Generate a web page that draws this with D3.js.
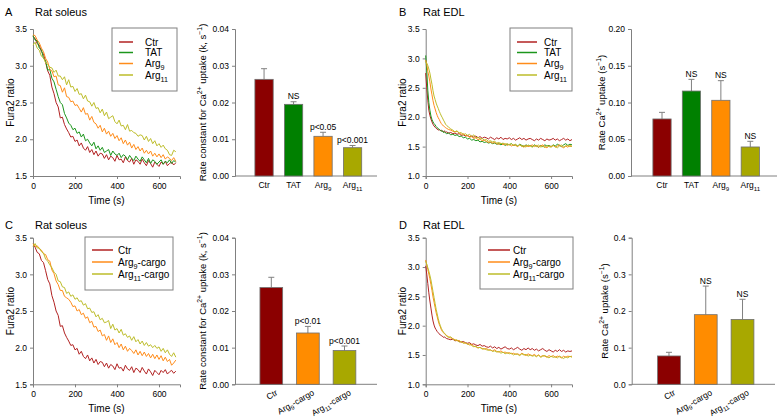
<!DOCTYPE html>
<html>
<head>
<meta charset="utf-8">
<script src="https://cdn.jsdelivr.net/npm/d3@7"></script>
<style>
body { margin: 0; background: #fff; }
svg { font-family: "Liberation Sans", Arial, sans-serif; }
</style>
</head>
<body>
<svg id="fig" width="783" height="420"></svg>
<script>
// sampling times (s)
var timeSoleus = [0,10,20,30,40,50,60,70,80,90,
	100,110,120,130,140,150,160,170,180,190,
	200,210,220,230,240,250,260,270,280,290,
	300,310,320,330,340,350,360,370,380,390,
	400,410,420,430,440,450,460,470,480,490,
	500,510,520,530,540,550,560,570,580,590,
	600,610,620,630,640,650,660,670,680];
var timeEDL = [0,5,10,15,20,25,30,35,40,45,
	50,55,60,65,70,75,80,85,90,95,
	100,110,120,130,140,150,160,170,180,190,
	200,210,220,230,240,250,260,270,280,290,
	300,310,320,330,340,350,360,370,380,390,
	400,410,420,430,440,450,460,470,480,490,
	500,510,520,530,540,550,560,570,580,590,
	600,610,620,630,640,650,660,670,680,690,
	700];

// Fura2 ratio traces, rat soleus
var soleusCtr = [3.40,3.37,3.30,3.28,3.19,3.16,3.05,2.93,2.87,2.71,
	2.62,2.50,2.44,2.29,2.30,2.20,2.14,2.09,2.03,2.04,
	1.97,1.99,1.91,1.95,1.88,1.85,1.90,1.82,1.86,1.79,
	1.84,1.77,1.81,1.80,1.74,1.79,1.72,1.77,1.75,1.70,
	1.78,1.72,1.73,1.68,1.76,1.71,1.69,1.74,1.66,1.72,
	1.70,1.66,1.73,1.68,1.64,1.71,1.67,1.62,1.69,1.66,
	1.63,1.69,1.66,1.70,1.64,1.67,1.69,1.65,1.68];
var soleusTAT = [3.41,3.35,3.34,3.24,3.22,3.10,3.07,2.94,2.95,2.83,
	2.78,2.68,2.58,2.50,2.47,2.35,2.29,2.22,2.19,2.13,
	2.15,2.08,2.10,2.03,2.07,1.98,2.00,1.95,1.91,1.96,
	1.87,1.91,1.85,1.89,1.82,1.84,1.86,1.78,1.84,1.80,
	1.78,1.81,1.75,1.79,1.77,1.72,1.78,1.74,1.71,1.77,
	1.73,1.70,1.76,1.72,1.68,1.74,1.67,1.72,1.70,1.66,
	1.69,1.72,1.66,1.70,1.68,1.72,1.67,1.71,1.69];
var soleusArg9 = [3.42,3.41,3.35,3.31,3.24,3.19,3.10,3.05,2.95,2.93,
	2.85,2.86,2.74,2.73,2.64,2.70,2.58,2.57,2.51,2.52,
	2.46,2.47,2.42,2.37,2.43,2.34,2.35,2.26,2.31,2.23,
	2.21,2.15,2.19,2.10,2.15,2.07,2.11,2.04,2.08,2.01,
	2.05,1.98,2.02,1.94,1.99,1.92,1.96,1.88,1.93,1.86,
	1.90,1.84,1.88,1.81,1.85,1.80,1.84,1.77,1.81,1.76,
	1.80,1.75,1.79,1.73,1.76,1.74,1.71,1.75,1.70];
var soleusArg11 = [3.28,3.32,3.24,3.21,3.13,3.11,3.04,3.02,2.98,2.97,
	2.91,2.94,2.86,2.86,2.81,2.85,2.74,2.81,2.71,2.72,
	2.65,2.69,2.61,2.62,2.55,2.60,2.52,2.51,2.45,2.50,
	2.42,2.43,2.36,2.41,2.32,2.37,2.28,2.30,2.32,2.24,
	2.21,2.26,2.18,2.19,2.13,2.20,2.11,2.12,2.09,2.08,
	2.04,2.06,2.05,1.99,2.04,1.97,2.01,1.94,1.98,1.91,
	1.94,1.89,1.92,1.87,1.85,1.79,1.78,1.85,1.83];
var soleusArg9Cargo = [3.42,3.38,3.39,3.35,3.33,3.28,3.27,3.20,3.18,3.06,
	3.01,2.91,2.86,2.78,2.78,2.70,2.68,2.66,2.62,2.56,
	2.57,2.50,2.52,2.45,2.47,2.40,2.42,2.34,2.36,2.28,
	2.29,2.22,2.24,2.16,2.18,2.10,2.16,2.07,2.12,2.04,
	2.07,2.00,2.05,1.97,2.02,1.95,1.99,1.96,1.92,1.97,
	1.90,1.95,1.89,1.94,1.88,1.92,1.86,1.91,1.85,1.90,
	1.84,1.89,1.82,1.87,1.81,1.84,1.76,1.79,1.83];
var soleusArg11Cargo = [3.38,3.42,3.36,3.36,3.31,3.29,3.21,3.18,3.13,3.09,
	3.03,3.00,2.91,2.90,2.83,2.82,2.74,2.76,2.70,2.72,
	2.66,2.68,2.63,2.64,2.58,2.60,2.53,2.54,2.48,2.49,
	2.42,2.45,2.38,2.40,2.34,2.35,2.37,2.26,2.32,2.24,
	2.26,2.20,2.25,2.17,2.19,2.14,2.16,2.10,2.15,2.08,
	2.11,2.05,2.09,2.03,2.07,2.02,2.04,2.00,2.03,1.99,
	2.01,1.95,1.99,1.93,1.97,1.91,1.88,1.93,1.87];

// Fura2 ratio traces, rat EDL
var edlCtr = [2.75,2.50,2.29,2.12,2.03,1.97,1.92,1.88,1.85,1.83,
	1.81,1.80,1.78,1.79,1.77,1.78,1.76,1.75,1.77,1.74,
	1.75,1.73,1.74,1.72,1.73,1.71,1.72,1.69,1.70,1.68,
	1.69,1.67,1.68,1.66,1.68,1.65,1.67,1.64,1.66,1.65,
	1.63,1.66,1.64,1.62,1.65,1.63,1.66,1.62,1.64,1.63,
	1.65,1.62,1.64,1.61,1.63,1.65,1.62,1.64,1.61,1.63,
	1.64,1.62,1.60,1.63,1.61,1.64,1.62,1.60,1.63,1.61,
	1.62,1.64,1.61,1.63,1.60,1.62,1.64,1.61,1.63,1.60,
	1.62];
var edlTAT = [3.05,2.80,2.46,2.25,2.12,2.02,1.96,1.92,1.89,1.87,
	1.84,1.82,1.81,1.79,1.78,1.76,1.77,1.74,1.75,1.73,
	1.72,1.73,1.70,1.71,1.69,1.70,1.67,1.68,1.65,1.66,
	1.63,1.64,1.61,1.62,1.60,1.61,1.58,1.59,1.57,1.58,
	1.56,1.57,1.55,1.56,1.54,1.55,1.53,1.55,1.52,1.54,
	1.53,1.55,1.52,1.53,1.51,1.54,1.52,1.50,1.53,1.51,
	1.52,1.50,1.53,1.51,1.49,1.52,1.50,1.53,1.51,1.52,
	1.50,1.53,1.51,1.54,1.52,1.50,1.53,1.55,1.52,1.54,
	1.53];
var edlArg9 = [2.97,2.90,2.78,2.70,2.60,2.48,2.38,2.28,2.20,2.14,
	2.08,2.03,1.99,1.96,1.92,1.89,1.87,1.85,1.84,1.82,
	1.81,1.79,1.78,1.76,1.75,1.76,1.73,1.71,1.72,1.69,
	1.68,1.66,1.67,1.64,1.65,1.62,1.63,1.60,1.61,1.59,
	1.57,1.58,1.56,1.57,1.55,1.54,1.56,1.53,1.55,1.52,
	1.54,1.51,1.53,1.52,1.50,1.53,1.51,1.49,1.52,1.50,
	1.51,1.53,1.50,1.52,1.49,1.51,1.53,1.50,1.48,1.51,
	1.50,1.52,1.49,1.51,1.53,1.50,1.48,1.51,1.49,1.52,
	1.50];
var edlArg11 = [2.94,2.92,2.88,2.82,2.75,2.65,2.56,2.45,2.36,2.30,
	2.24,2.19,2.15,2.10,2.06,2.02,1.99,1.95,1.92,1.88,
	1.86,1.83,1.80,1.78,1.75,1.77,1.73,1.74,1.70,1.72,
	1.69,1.71,1.67,1.70,1.65,1.66,1.63,1.64,1.61,1.62,
	1.59,1.60,1.58,1.59,1.56,1.57,1.55,1.56,1.54,1.55,
	1.53,1.55,1.52,1.54,1.51,1.53,1.50,1.52,1.49,1.53,
	1.51,1.49,1.52,1.50,1.53,1.49,1.51,1.48,1.52,1.50,
	1.49,1.52,1.50,1.48,1.51,1.53,1.49,1.51,1.52,1.50,
	1.51];
var edlCargoCtr = [3.02,2.88,2.72,2.56,2.42,2.30,2.18,2.08,2.01,1.96,
	1.93,1.90,1.88,1.86,1.84,1.83,1.82,1.80,1.81,1.79,
	1.78,1.77,1.76,1.77,1.74,1.75,1.73,1.72,1.73,1.71,
	1.70,1.71,1.68,1.69,1.67,1.66,1.68,1.65,1.66,1.64,
	1.63,1.65,1.62,1.64,1.61,1.63,1.60,1.62,1.64,1.61,
	1.60,1.62,1.59,1.61,1.63,1.60,1.58,1.61,1.59,1.62,
	1.59,1.61,1.58,1.60,1.57,1.59,1.61,1.58,1.56,1.59,
	1.57,1.55,1.58,1.56,1.59,1.56,1.58,1.55,1.57,1.56,
	1.57];
var edlArg9Cargo = [3.12,3.04,2.96,2.88,2.80,2.70,2.60,2.49,2.40,2.31,
	2.22,2.15,2.08,2.02,1.98,1.93,1.90,1.88,1.86,1.85,
	1.83,1.81,1.79,1.78,1.76,1.74,1.75,1.72,1.71,1.70,
	1.69,1.67,1.68,1.65,1.64,1.62,1.63,1.61,1.60,1.61,
	1.59,1.58,1.57,1.59,1.56,1.55,1.57,1.54,1.55,1.53,
	1.54,1.52,1.53,1.51,1.52,1.50,1.53,1.51,1.49,1.52,
	1.50,1.49,1.51,1.48,1.50,1.47,1.49,1.48,1.46,1.49,
	1.47,1.49,1.46,1.48,1.47,1.45,1.48,1.46,1.48,1.47,
	1.48];
var edlArg11Cargo = [3.10,3.05,2.99,2.93,2.86,2.78,2.68,2.58,2.48,2.38,
	2.28,2.20,2.12,2.05,2.00,1.95,1.92,1.89,1.87,1.85,
	1.82,1.80,1.81,1.77,1.75,1.76,1.72,1.73,1.70,1.71,
	1.68,1.69,1.66,1.64,1.65,1.62,1.63,1.60,1.61,1.59,
	1.58,1.59,1.56,1.57,1.55,1.56,1.53,1.55,1.52,1.54,
	1.52,1.53,1.50,1.52,1.51,1.49,1.52,1.50,1.51,1.48,
	1.50,1.48,1.49,1.47,1.50,1.46,1.48,1.49,1.47,1.45,
	1.48,1.46,1.47,1.45,1.48,1.46,1.44,1.47,1.45,1.48,
	1.46];

// bar charts: rate of Ca2+ uptake (mean, SEM) and significance labels
var peptideCats = ["Ctr", "TAT", "Arg_{9}", "Arg_{11}"];
var cargoCats = ["Ctr", "Arg_{9}-cargo", "Arg_{11}-cargo"];
var soleusRate = [0.0263, 0.0195, 0.0108, 0.0077];
var soleusRateErr = [0.0029, 0.0007, 0.0011, 0.0006];
var soleusSig = ["", "NS", "p<0.05", "p<0.001"];
var edlRate = [0.0776, 0.1156, 0.1030, 0.0395];
var edlRateErr = [0.0090, 0.0159, 0.0267, 0.0077];
var edlSig = ["", "NS", "NS", "NS"];
var soleusCargoRate = [0.0264, 0.0140, 0.0092];
var soleusCargoErr = [0.0028, 0.0018, 0.00125];
var soleusCargoSig = ["", "p<0.01", "p<0.001"];
var edlCargoRate = [0.0773, 0.190, 0.177];
var edlCargoErr = [0.0100, 0.078, 0.055];
var edlCargoSig = ["", "NS", "NS"];

var timeTicks = [0, 200, 400, 600];

var lineColor = {"Ctr": "#b22222", "TAT": "#1c961c", "Arg9": "#ff8c1a", "Arg11": "#bdbd2a"};
var barColor = {"Ctr": "#8b0000", "TAT": "#008000", "Arg9": "#ff8c00", "Arg11": "#a8a800"};
var axisGrey = "#808080";

var svg = d3.select("#fig");

// text with _{sub} and ^{sup} pieces
function richText(t, str, size) {
	var parts = str.split(/(_\{[^}]*\}|\^\{[^}]*\})/).filter(function(s) { return s.length > 0; });
	var shift = 0;
	parts.forEach(function(p) {
		var target = 0, txt = p, fs = size;
		if (p[0] == "_") { target = size * 0.3; txt = p.slice(2, -1); fs = size * 0.72; }
		else if (p[0] == "^") { target = -size * 0.4; txt = p.slice(2, -1); fs = size * 0.72; }
		t.append("tspan").attr("dy", target - shift).attr("font-size", fs).text(txt);
		shift = target;
	});
}

function styleAxis(g) {
	g.selectAll(".domain").attr("stroke", axisGrey);
	g.selectAll(".tick line").attr("stroke", axisGrey);
	g.selectAll(".tick text").attr("fill", "#000");
}

function colorKey(name) {
	if (name.indexOf("Arg_{11}") == 0) return "Arg11";
	if (name.indexOf("Arg_{9}") == 0) return "Arg9";
	return name;
}

function drawTrace(cfg) {
	var g = svg.append("g");
	var x = d3.scaleLinear().domain([0, 700]).range([cfg.left, cfg.right]);
	var y = d3.scaleLinear().domain(cfg.yDomain).range([cfg.bottom, cfg.top]);

	var ax = g.append("g").attr("transform", "translate(0," + cfg.bottom + ")")
		.call(d3.axisBottom(x).tickValues(timeTicks).tickSize(3).tickPadding(4).tickFormat(d3.format("d")))
		.attr("font-size", 8.5).attr("font-family", null);
	styleAxis(ax);
	var ay = g.append("g").attr("transform", "translate(" + cfg.left + ",0)")
		.call(d3.axisLeft(y).tickValues(cfg.yTicks).tickSize(3).tickPadding(3).tickFormat(d3.format(".1f")))
		.attr("font-size", 8.5).attr("font-family", null);
	styleAxis(ay);

	var line = d3.line()
		.x(function(d, i) { return x(cfg.time[i]); })
		.y(function(d) { return y(d); });

	cfg.series.forEach(function(s) {
		g.append("path")
			.attr("d", line(s.values))
			.attr("fill", "none")
			.attr("stroke", lineColor[colorKey(s.name)])
			.attr("stroke-width", 1);
	});

	// legend
	var L = cfg.legend;
	g.append("rect").attr("x", L.x).attr("y", L.y).attr("width", L.w).attr("height", L.h)
		.attr("fill", "#fff").attr("stroke", axisGrey).attr("stroke-width", 1);
	cfg.series.forEach(function(s, i) {
		g.append("line").attr("x1", L.lx0).attr("x2", L.lx1).attr("y1", L.rows[i]).attr("y2", L.rows[i])
			.attr("stroke", lineColor[colorKey(s.name)]).attr("stroke-width", 1.5);
		var t = g.append("text").attr("x", L.tx).attr("y", L.rows[i] + 3.5).attr("font-size", 10);
		richText(t, s.name, 10);
	});

	// labels
	svg.append("text").attr("x", cfg.letterX).attr("y", cfg.headY).attr("font-size", 11).text(cfg.letter);
	svg.append("text").attr("x", cfg.titleX).attr("y", cfg.headY).attr("font-size", 11).text(cfg.title);
	svg.append("text").attr("x", (cfg.left + cfg.right) / 2).attr("y", cfg.bottom + 28)
		.attr("text-anchor", "middle").attr("font-size", 10).text("Time (s)");
	svg.append("text")
		.attr("transform", "translate(" + cfg.yLabelX + "," + ((cfg.top + cfg.bottom) / 2) + ") rotate(-90)")
		.attr("text-anchor", "middle").attr("font-size", 10).text("Fura2 ratio");
}

function drawBars(cfg) {
	var g = svg.append("g");
	var x = d3.scaleBand().domain(cfg.cats).range(cfg.band).paddingInner(0.38).paddingOuter(0.19);
	var y = d3.scaleLinear().domain(cfg.yDomain).range([cfg.bottom, cfg.top]);

	var ay = g.append("g").attr("transform", "translate(" + cfg.left + ",0)")
		.call(d3.axisLeft(y).tickValues(cfg.yTicks).tickSize(3).tickPadding(3).tickFormat(d3.format(cfg.fmt)))
		.attr("font-size", 8.5).attr("font-family", null);
	styleAxis(ay);
	g.append("line").attr("x1", cfg.left).attr("x2", cfg.right).attr("y1", cfg.bottom).attr("y2", cfg.bottom)
		.attr("stroke", axisGrey);

	var idx = d3.range(cfg.cats.length);

	// error bars (upper only)
	g.selectAll(".err").data(idx).enter().append("path")
		.attr("d", function(i) {
			var cx = x(cfg.cats[i]) + x.bandwidth() / 2;
			var top = y(cfg.values[i] + cfg.err[i]);
			return "M" + cx + "," + y(cfg.values[i]) + "V" + top + "M" + (cx - 3) + "," + top + "H" + (cx + 3);
		})
		.attr("stroke", axisGrey).attr("fill", "none");

	g.selectAll(".bar").data(idx).enter().append("rect")
		.attr("x", function(i) { return x(cfg.cats[i]); })
		.attr("width", x.bandwidth())
		.attr("y", function(i) { return y(cfg.values[i]); })
		.attr("height", function(i) { return y(0) - y(cfg.values[i]); })
		.attr("fill", function(i) { return barColor[colorKey(cfg.cats[i])]; })
		.attr("stroke", "#707070").attr("stroke-width", 0.8);

	g.selectAll(".sig").data(idx).enter().append("text")
		.attr("x", function(i) { return x(cfg.cats[i]) + x.bandwidth() / 2; })
		.attr("y", function(i) { return y(cfg.values[i] + cfg.err[i]) - 2.5; })
		.attr("text-anchor", "middle").attr("font-size", 8.5)
		.text(function(i) { return cfg.sig[i]; });

	// category labels
	idx.forEach(function(i) {
		var cx = x(cfg.cats[i]) + x.bandwidth() / 2;
		var t = g.append("text").attr("font-size", 8.5);
		if (cfg.rotate) {
			t.attr("text-anchor", "end")
				.attr("transform", "translate(" + (cx + 7) + "," + (cfg.bottom + 10) + ") rotate(-30)");
		} else {
			t.attr("text-anchor", "middle").attr("x", cx).attr("y", cfg.bottom + 12);
		}
		richText(t, cfg.cats[i], 8.5);
	});

	var yl = svg.append("text")
		.attr("transform", "translate(" + cfg.yLabelX + "," + ((cfg.top + cfg.bottom) / 2) + ") rotate(-90)")
		.attr("text-anchor", "middle").attr("font-size", 9.5);
	richText(yl, cfg.yLabel, 9.5);
}

drawTrace({
	left: 33, right: 180, top: 29, bottom: 176,
	yDomain: [1.5, 3.5], yTicks: [1.5, 2, 2.5, 3, 3.5], time: timeSoleus,
	series: [
		{name: "Ctr", values: soleusCtr},
		{name: "TAT", values: soleusTAT},
		{name: "Arg_{9}", values: soleusArg9},
		{name: "Arg_{11}", values: soleusArg11}
	],
	letter: "A", letterX: 5, title: "Rat soleus", titleX: 35, headY: 16, yLabelX: 14,
	legend: {x: 112, y: 28, w: 65, h: 63, lx0: 119, lx1: 133, tx: 145, rows: [42, 52.5, 63.5, 75]}
});
drawTrace({
	left: 425.7, right: 572, top: 29, bottom: 176,
	yDomain: [1, 3.5], yTicks: [1, 1.5, 2, 2.5, 3, 3.5], time: timeEDL,
	series: [
		{name: "Ctr", values: edlCtr},
		{name: "TAT", values: edlTAT},
		{name: "Arg_{9}", values: edlArg9},
		{name: "Arg_{11}", values: edlArg11}
	],
	letter: "B", letterX: 399, title: "Rat EDL", titleX: 423, headY: 16, yLabelX: 406,
	legend: {x: 510, y: 28, w: 62, h: 63, lx0: 517, lx1: 537, tx: 544, rows: [42, 52.5, 63.5, 75]}
});
drawTrace({
	left: 33, right: 180, top: 237.7, bottom: 384.3,
	yDomain: [1.5, 3.5], yTicks: [1.5, 2, 2.5, 3, 3.5], time: timeSoleus,
	series: [
		{name: "Ctr", values: soleusCtr},
		{name: "Arg_{9}-cargo", values: soleusArg9Cargo},
		{name: "Arg_{11}-cargo", values: soleusArg11Cargo}
	],
	letter: "C", letterX: 5, title: "Rat soleus", titleX: 35, headY: 229, yLabelX: 14,
	legend: {x: 85, y: 237, w: 88, h: 53, lx0: 92, lx1: 113, tx: 118, rows: [250, 262, 274]}
});
drawTrace({
	left: 425.7, right: 572, top: 237.7, bottom: 384.3,
	yDomain: [1, 3.5], yTicks: [1, 1.5, 2, 2.5, 3, 3.5], time: timeEDL,
	series: [
		{name: "Ctr", values: edlCargoCtr},
		{name: "Arg_{9}-cargo", values: edlArg9Cargo},
		{name: "Arg_{11}-cargo", values: edlArg11Cargo}
	],
	letter: "D", letterX: 399, title: "Rat EDL", titleX: 423, headY: 229, yLabelX: 406,
	legend: {x: 480, y: 237, w: 93, h: 52, lx0: 488, lx1: 510, tx: 513, rows: [250, 262, 274]}
});

drawBars({
	left: 235, right: 377, top: 29, bottom: 176, band: [249.3, 367.3],
	yDomain: [0, 0.04], yTicks: [0, 0.01, 0.02, 0.03, 0.04], fmt: ".2f",
	cats: peptideCats, values: soleusRate, err: soleusRateErr, sig: soleusSig, rotate: false,
	yLabel: "Rate constant for Ca^{2+} uptake (k, s^{\u22121})", yLabelX: 206
});
drawBars({
	left: 631, right: 777, top: 29, bottom: 176, band: [647.3, 765],
	yDomain: [0, 0.2], yTicks: [0, 0.05, 0.1, 0.15, 0.2], fmt: ".2f",
	cats: peptideCats, values: edlRate, err: edlRateErr, sig: edlSig, rotate: false,
	yLabel: "Rate Ca^{2+} uptake (s^{\u22121})", yLabelX: 605
});
drawBars({
	left: 235, right: 377, top: 237.7, bottom: 384.3, band: [253, 362.8],
	yDomain: [0, 0.04], yTicks: [0, 0.01, 0.02, 0.03, 0.04], fmt: ".2f",
	cats: cargoCats, values: soleusCargoRate, err: soleusCargoErr, sig: soleusCargoSig, rotate: true,
	yLabel: "Rate constant for Ca^{2+} uptake (k, s^{\u22121})", yLabelX: 206
});
drawBars({
	left: 631.7, right: 775, top: 237.7, bottom: 384.3, band: [650.6, 760.9],
	yDomain: [0, 0.4], yTicks: [0, 0.1, 0.2, 0.3, 0.4], fmt: ".1f",
	cats: cargoCats, values: edlCargoRate, err: edlCargoErr, sig: edlCargoSig, rotate: true,
	yLabel: "Rate Ca^{2+} uptake (s^{\u22121})", yLabelX: 608
});
</script>
</body>
</html>
